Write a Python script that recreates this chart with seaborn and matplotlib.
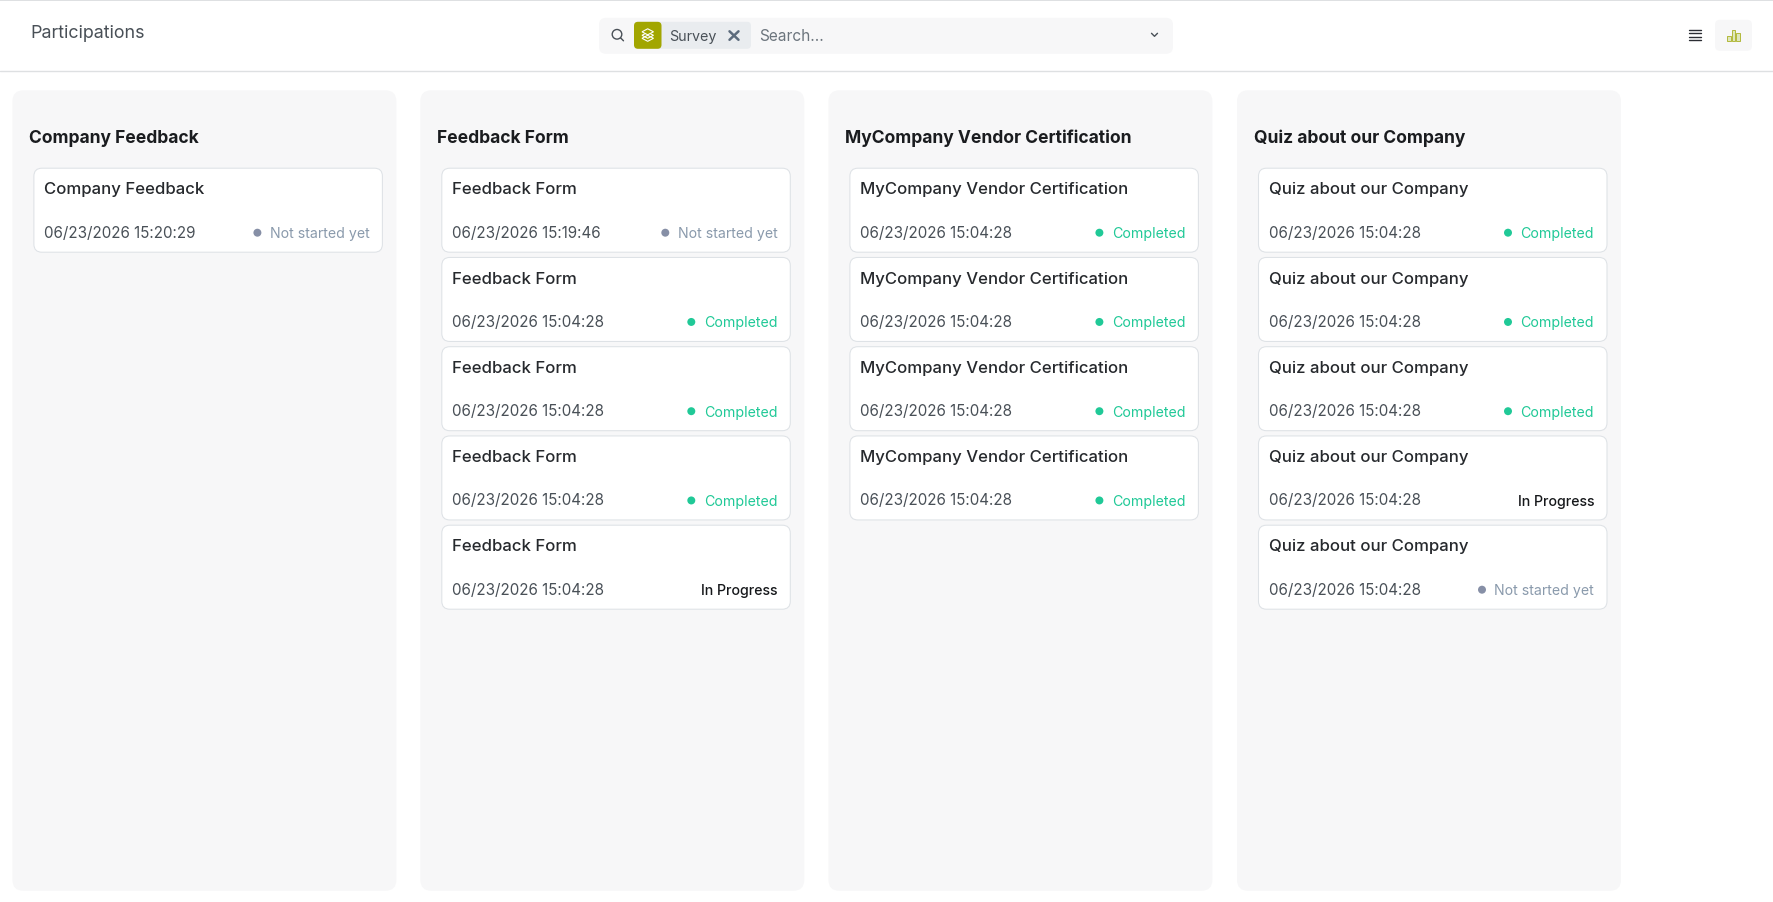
# participations board, survey filter
import pandas as pd
import matplotlib.pyplot as plt
import matplotlib.patheffects as pe
import seaborn as sns
from matplotlib.patches import FancyBboxPatch, Rectangle, Polygon

columns = ["Company Feedback", "Feedback Form", "MyCompany Vendor Certification", "Quiz about our Company"]
dates_company = ["06/23/2026 15:20:29"]
dates_form = ["06/23/2026 15:19:46", "06/23/2026 15:04:28", "06/23/2026 15:04:28", "06/23/2026 15:04:28", "06/23/2026 15:04:28"]
dates_vendor = ["06/23/2026 15:04:28", "06/23/2026 15:04:28", "06/23/2026 15:04:28", "06/23/2026 15:04:28"]
dates_quiz = ["06/23/2026 15:04:28", "06/23/2026 15:04:28", "06/23/2026 15:04:28", "06/23/2026 15:04:28", "06/23/2026 15:04:28"]
status_company = ["Not started yet"]
status_form = ["Not started yet", "Completed", "Completed", "Completed", "In Progress"]
status_vendor = ["Completed", "Completed", "Completed", "Completed"]
status_quiz = ["Completed", "Completed", "Completed", "In Progress", "Not started yet"]

all_dates = [dates_company, dates_form, dates_vendor, dates_quiz]
all_status = [status_company, status_form, status_vendor, status_quiz]

# layout in pixels
W, H = 1773, 903
Y_SHIFT = 0.8
PANEL_X = [12.4, 420.3, 828.4, 1237]
PANEL_W = 384
PANEL_TOP, PANEL_BOTTOM = 90.5, 891
CARD_TOP, CARD_PITCH, CARD_H = 168.4, 89.25, 84
CARD_DX, CARD_W = 21.5, 348.5
DOT_OFFSET = {"Completed": 99, "Not started yet": 125}
STATUS_COLORS = {"Completed": "#20c997", "Not started yet": "#868fa6"}
TEXT_COLORS = {"Completed": "#20c997", "Not started yet": "#8a9aac", "In Progress": "#16181b"}
PANEL_COLOR = "#f7f7f8"


def rbox(ax, x0, y0, x1, y1, r, fc, ec="none", lw=0, z=1):
    ax.add_patch(FancyBboxPatch((x0, y0), x1 - x0, y1 - y0, boxstyle=f"round,pad=0,rounding_size={r}",
                                fc=fc, ec=ec, lw=lw, zorder=z))


def draw_header(ax):
    ax.plot([0, W], [0.2, 0.2], color="#dee0e2", lw=1.4)
    ax.plot([0, W], [70.8, 70.8], color="#dee0e2", lw=1.0)
    ax.text(30.2, 33.2, "Participations", fontsize=12.9, color="#495057", va="center")

    # search bar
    rbox(ax, 599, 18, 1173, 54, 7, PANEL_COLOR)
    ax.add_patch(plt.Circle((617, 34.5), 4.8, fc="none", ec="#495057", lw=1.0, zorder=3))
    ax.plot([620.5, 623.5], [38, 41], color="#495057", lw=1.0, zorder=3)
    rbox(ax, 634, 22, 751, 49, 4, "#e9ecef", z=2)
    rbox(ax, 634, 22, 661.5, 49, 4, "#a2a600", z=3)
    for y in [38.5, 35.5]:
        ax.add_patch(Polygon([(642, y), (647.7, y + 3), (653.5, y), (647.7, y - 3)], fc="none",
                             ec="white", lw=0.8, zorder=4))
    ax.add_patch(Polygon([(642, 32), (647.7, 29), (653.5, 32), (647.7, 35)], fc="#a2a600",
                         ec="white", lw=0.8, zorder=5))
    ax.text(669.5, 36, "Survey", fontsize=10.3, color="#495057", va="center", zorder=4)
    ax.plot([729.5, 738.5], [31.5, 40], color="#5c6b7c", lw=1.8, zorder=4)
    ax.plot([729.5, 738.5], [40, 31.5], color="#5c6b7c", lw=1.8, zorder=4)
    ax.text(759.4, 35.5, "Search...", fontsize=11.1, color="#6c757d", va="center", zorder=4)
    ax.plot([1151.5, 1154.5, 1157.5], [33.5, 36.5, 33.5], color="#495057", lw=1.0, zorder=4)

    # view switch
    for y in [30, 33.5, 36.8, 40]:
        ax.plot([1689, 1701], [y, y], color="#2b2d33", lw=1.0)
    rbox(ax, 1715, 20, 1752, 51, 5, PANEL_COLOR)
    for x0, x1, top in [(1727.2, 1730.5, 36.3), (1731.5, 1735, 30.3), (1736.2, 1739.8, 33.3)]:
        ax.add_patch(Rectangle((x0, top), x1 - x0, 41 - top, fc="#dfe6bd", ec="#a9b021", lw=0.6, zorder=3))


def draw_column(ax, i):
    px = PANEL_X[i]
    rbox(ax, px, PANEL_TOP, px + PANEL_W, PANEL_BOTTOM, 11, PANEL_COLOR)
    ax.text(px + 17, 137.7, columns[i], fontsize=12.55, fontweight="bold", color="#1a1c1f", va="center")
    rows = []
    for j, (date, status) in enumerate(zip(all_dates[i], all_status[i])):
        top = CARD_TOP + j * CARD_PITCH
        x0 = px + CARD_DX
        x1 = x0 + CARD_W
        rbox(ax, x0, top, x1, top + CARD_H, 8, "white", ec="#dee2e6", lw=0.75, z=2)
        ax.text(x0 + 10.2, top + 20.6, columns[i], fontsize=12.05, fontweight="medium", color="#26292d",
                va="center", zorder=4)
        ax.text(x0 + 10.2, top + 64, date, fontsize=10.95, color="#495057", va="center", zorder=4)
        ax.text(x1 - 13, top + 65, status, fontsize=10.2, color=TEXT_COLORS[status], va="center",
                ha="right", zorder=4, fontweight="medium" if status == "In Progress" else "normal")
        if status in DOT_OFFSET:
            rows.append({"x": x1 - DOT_OFFSET[status], "y": top + 64.5, "status": status})
    return rows


def main():
    sns.set_theme(style="white")
    plt.rcParams["font.family"] = ["Inter", "DejaVu Sans"]

    fig = plt.figure(figsize=(W / 100, H / 100), dpi=100, facecolor="white")
    ax = fig.add_axes([0, 0, 1, 1])

    draw_header(ax)
    dots = []
    for i in range(len(columns)):
        dots.extend(draw_column(ax, i))

    sns.scatterplot(data=pd.DataFrame(dots), x="x", y="y", hue="status", palette=STATUS_COLORS,
                    s=33, linewidth=0, legend=False, zorder=5, ax=ax)
    ax.set_xlim(0, W)
    ax.set_ylim(H - Y_SHIFT, -Y_SHIFT)
    ax.axis("off")

    fig.savefig("out.png", dpi=100)


if __name__ == "__main__":
    main()
